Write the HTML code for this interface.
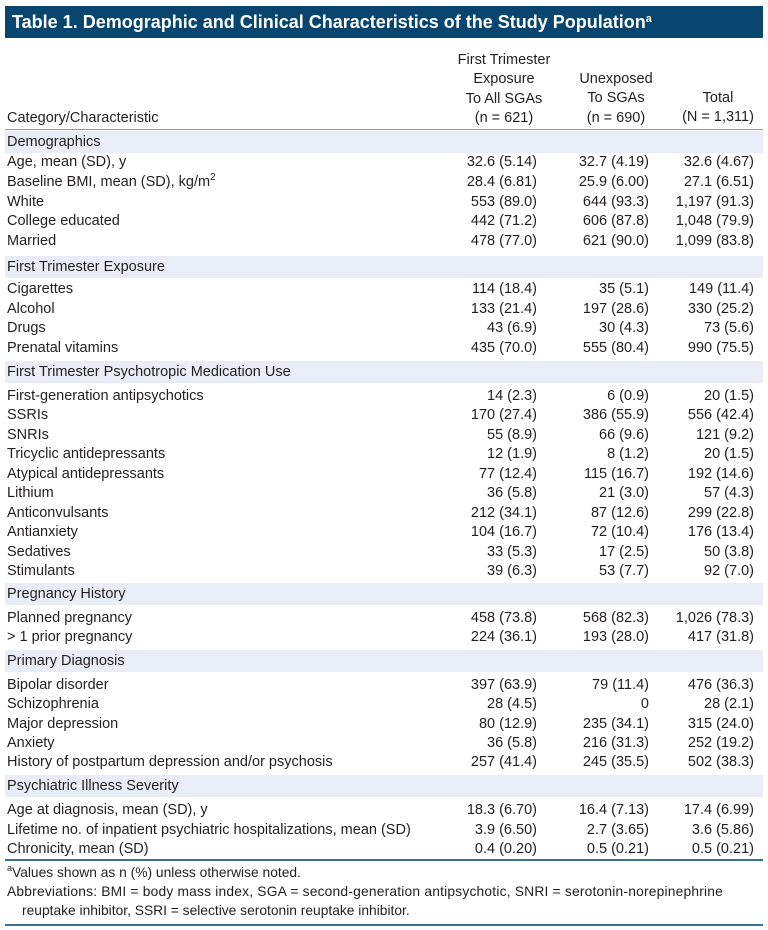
<!DOCTYPE html>
<html><head><meta charset="utf-8"><style>
body{margin:0;width:768px;height:930px;background:#fff;position:relative;font-family:"Liberation Sans",sans-serif;color:#231f20;overflow:hidden}
sup{line-height:0;vertical-align:6px}
.t{position:absolute;font-size:14.5px;line-height:18px;white-space:nowrap}
.title{position:absolute;left:5px;top:6px;width:758px;height:32px;background:#08466f;color:#fff;font-weight:bold;font-size:18px;line-height:32px;padding-left:7px;box-sizing:border-box;white-space:nowrap}
.sec{position:absolute;left:5px;width:758px;height:22px;background:#e9edf7}
.hl{position:absolute;left:5px;width:758px}
.r{text-align:right}
.c{text-align:center}
.fn{position:absolute;font-size:13.8px;line-height:18px;white-space:nowrap}
</style></head><body>
<div class="title">Table 1. Demographic and Clinical Characteristics of the Study Population<sup style="font-size:11px">a</sup></div>
<div class="t c" style="left:444px;width:120px;top:51px;line-height:19.3px">First Trimester<br>Exposure<br>To All SGAs<br>(n = 621)</div>
<div class="t c" style="left:560px;width:112px;top:70px;line-height:19.3px">Unexposed<br>To SGAs<br>(n = 690)</div>
<div class="t c" style="left:666px;width:104px;top:89px;line-height:19.3px">Total<br>(N = 1,311)</div>
<div class="t" style="left:7px;top:109px">Category/Characteristic</div>
<div class="hl" style="top:129px;height:1px;background:#8a9bb0"></div>
<div class="hl" style="top:859px;height:2px;background:#3b6f9c"></div>
<div class="hl" style="top:924px;height:2px;background:#3b6f9c"></div>
<div class="fn" style="left:7px;top:864px"><sup style="font-size:9px">a</sup>Values shown as n (%) unless otherwise noted.</div>
<div class="fn" style="left:7px;top:883px;letter-spacing:0.2px">Abbreviations: BMI = body mass index, SGA = second-generation antipsychotic, SNRI = serotonin-norepinephrine</div>
<div class="fn" style="left:22px;top:902px">reuptake inhibitor, SSRI = selective serotonin reuptake inhibitor.</div>
<div id="rows"></div>
<script>
const sections=[
 ["Demographics",142,162,19.8,[
  ["Age, mean (SD), y","32.6 (5.14)","32.7 (4.19)","32.6 (4.67)"],
  ["Baseline BMI, mean (SD), kg/m<sup style='font-size:10px'>2</sup>","28.4 (6.81)","25.9 (6.00)","27.1 (6.51)"],
  ["White","553 (89.0)","644 (93.3)","1,197 (91.3)"],
  ["College educated","442 (71.2)","606 (87.8)","1,048 (79.9)"],
  ["Married","478 (77.0)","621 (90.0)","1,099 (83.8)"]]],
 ["First Trimester Exposure",267,289,19.6,[
  ["Cigarettes","114 (18.4)","35 (5.1)","149 (11.4)"],
  ["Alcohol","133 (21.4)","197 (28.6)","330 (25.2)"],
  ["Drugs","43 (6.9)","30 (4.3)","73 (5.6)"],
  ["Prenatal vitamins","435 (70.0)","555 (80.4)","990 (75.5)"]]],
 ["First Trimester Psychotropic Medication Use",372,396,19.45,[
  ["First-generation antipsychotics","14 (2.3)","6 (0.9)","20 (1.5)"],
  ["SSRIs","170 (27.4)","386 (55.9)","556 (42.4)"],
  ["SNRIs","55 (8.9)","66 (9.6)","121 (9.2)"],
  ["Tricyclic antidepressants","12 (1.9)","8 (1.2)","20 (1.5)"],
  ["Atypical antidepressants","77 (12.4)","115 (16.7)","192 (14.6)"],
  ["Lithium","36 (5.8)","21 (3.0)","57 (4.3)"],
  ["Anticonvulsants","212 (34.1)","87 (12.6)","299 (22.8)"],
  ["Antianxiety","104 (16.7)","72 (10.4)","176 (13.4)"],
  ["Sedatives","33 (5.3)","17 (2.5)","50 (3.8)"],
  ["Stimulants","39 (6.3)","53 (7.7)","92 (7.0)"]]],
 ["Pregnancy History",594,618,19.4,[
  ["Planned pregnancy","458 (73.8)","568 (82.3)","1,026 (78.3)"],
  ["&gt; 1 prior pregnancy","224 (36.1)","193 (28.0)","417 (31.8)"]]],
 ["Primary Diagnosis",661,685,19.3,[
  ["Bipolar disorder","397 (63.9)","79 (11.4)","476 (36.3)"],
  ["Schizophrenia","28 (4.5)","0","28 (2.1)"],
  ["Major depression","80 (12.9)","235 (34.1)","315 (24.0)"],
  ["Anxiety","36 (5.8)","216 (31.3)","252 (19.2)"],
  ["History of postpartum depression and/or psychosis","257 (41.4)","245 (35.5)","502 (38.3)"]]],
 ["Psychiatric Illness Severity",786,810,19.5,[
  ["Age at diagnosis, mean (SD), y","18.3 (6.70)","16.4 (7.13)","17.4 (6.99)"],
  ["Lifetime no. of inpatient psychiatric hospitalizations, mean (SD)","3.9 (6.50)","2.7 (3.65)","3.6 (5.86)"],
  ["Chronicity, mean (SD)","0.4 (0.20)","0.5 (0.21)","0.5 (0.21)"]]]
];
const rights=[537,649,754];
const host=document.getElementById('rows');
let h='';
sections.forEach(s=>{
 h+=`<div class="sec" style="top:${s[1]-11}px"></div>`;
 h+=`<div class="t" style="left:7px;top:${s[1]-9}px">${s[0]}</div>`;
 s[4].forEach((r,i)=>{
  const y=s[2]+i*s[3]-9;
  h+=`<div class="t" style="left:7px;top:${y}px">${r[0]}</div>`;
  for(let k=0;k<3;k++)h+=`<div class="t r" style="left:${rights[k]-130}px;width:130px;top:${y}px">${r[k+1]}</div>`;
 });
});
host.innerHTML=h;
</script>
</body></html>
